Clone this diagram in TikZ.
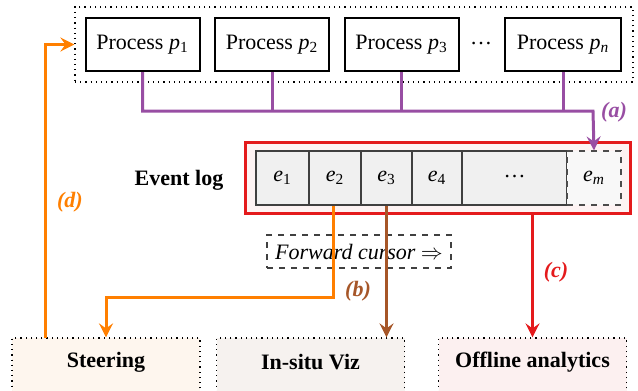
\documentclass[tikz,border=0pt]{standalone}
\usepackage{fontspec}
\setmainfont{Liberation Serif}
\usetikzlibrary{arrows.meta,calc}
\definecolor{cpurple}{HTML}{984EA3}
\definecolor{corange}{HTML}{FF7F00}
\definecolor{cbrown}{HTML}{A65628}
\definecolor{cred}{HTML}{E41A1C}
\definecolor{cellgray}{HTML}{F0F0F0}
\definecolor{emgray}{HTML}{F8F8F8}
\definecolor{logfill}{HTML}{FDF3F3}
\definecolor{steerfill}{HTML}{FEF6EE}
\definecolor{vizfill}{HTML}{F6F2EF}
\definecolor{offfill}{HTML}{FCF0F0}
\newcommand{\pv}[1]{$\mathit{p}_{#1}$}
\newcommand{\ev}[1]{$\mathit{e}_{#1}$}
\newcommand{\mydots}{\raisebox{0.3ex}{\char"2026}}
\tikzset{
  procbox/.style={draw=black, line width=1pt, fill=white, minimum width=57pt, minimum height=26.5pt, inner sep=0pt, font=\fontsize{11}{13}\selectfont},
  cellbox/.style={draw=black!75, line width=0.6pt, fill=cellgray, minimum height=27pt, inner sep=0pt, font=\fontsize{11}{13}\selectfont},
  botbox/.style={draw=black, dotted, line width=0.6pt, minimum width=94pt, minimum height=30pt, inner sep=0pt},
  bottxt/.style={font=\fontsize{11}{13}\selectfont\bfseries},
  lbl/.style={font=\fontsize{11}{13}\selectfont\bfseries\itshape},
  conn/.style={line width=1.5pt},
  tip/.style={-{Stealth[length=7pt,width=7pt,inset=2.5pt]}},
}
\begin{document}
\begin{tikzpicture}[x=0.5pt,y=-0.5pt]
\useasboundingbox (0,0) rectangle (638,391);
\clip (0,0) rectangle (638,391);
% outer dotted box
\node[draw=black, dotted, line width=0.6pt, minimum width=279pt, minimum height=37.5pt, inner sep=0pt] (procs) at (354,44.5) {};
\node[procbox] (p1) at (142.5,44.5) {Process \pv{\mathrm{1}}};
\node[procbox] (p2) at (272,44.5) {Process \pv{\mathrm{2}}};
\node[procbox] (p3) at (401.5,44.5) {Process \pv{\mathrm{3}}};
\node[font=\fontsize{11}{13}\selectfont] (pdots) at (481,44.5) {\mydots};
\node[procbox, minimum width=58pt] (pn) at (563,44.5) {Process \pv{\mathit{n}}};
% event log
\node[draw=cred, line width=1.5pt, fill=logfill, minimum width=192.5pt, minimum height=35.5pt, inner sep=0pt] (log) at (437.5,177.5) {};
\node[font=\fontsize{11}{13}\selectfont\bfseries] (logname) at (179,180) {Event log};
\node[cellbox, minimum width=26.5pt] (e1) at (282.5,178) {\ev{\mathrm{1}}};
\node[cellbox, minimum width=26pt] (e2) at (335,178) {\ev{\mathrm{2}}};
\node[cellbox, minimum width=25.5pt] (e3) at (386.5,178) {\ev{\mathrm{3}}};
\node[cellbox, minimum width=25pt] (e4) at (437,178) {\ev{\mathrm{4}}};
\node[cellbox, minimum width=52.5pt] (edots) at (514.5,178) {\mydots};
\node[cellbox, draw=black!70, dashed, fill=emgray, minimum width=27pt] (em) at (594,178) {\ev{\mathit{m}}};
% forward cursor
\node[draw=black!75, dashed, line width=0.6pt, minimum width=92pt, minimum height=16.5pt, inner sep=0pt, font=\fontsize{11}{13}\selectfont\itshape] (cursor) at (359,251.5) {Forward cursor $\Rightarrow$};
% bottom boxes
\node[botbox, fill=steerfill] (steer) at (106,368) {};
\node[bottxt] (steertxt) at (106,362) {Steering};
\node[botbox, fill=vizfill] (viz) at (310.5,368) {};
\node[bottxt] (viztxt) at (310.5,362) {In-situ Viz};
\node[botbox, fill=offfill] (off) at (532.5,368) {};
\node[bottxt] (offtxt) at (532.5,362) {Offline analytics};
% (a) purple
\coordinate (bus) at (593,111);
\draw[conn, cpurple, tip] (p1.south) |- (bus) -- (em.north);
\draw[conn, cpurple] (p2.south) -- (p2.south |- bus);
\draw[conn, cpurple] (p3.south) -- (p3.south |- bus);
\draw[conn, cpurple] (pn.south) -- (pn.south |- bus);
\node[lbl, text=cpurple] (la) at (614,112) {(a)};
% (b) orange and brown
\coordinate (obend) at (333,297);
\draw[conn, corange, tip] (e2.south -| obend) -- (obend) -| (steer.north);
\draw[conn, cbrown, tip] (e3.south) -- (e3.south |- viz.north);
\node[lbl, text=cbrown] (lb) at (358,291) {(b)};
% (c) red
\draw[conn, cred, tip] (log.south -| off.north) -- (off.north);
\node[lbl, text=cred] (lc) at (556,272) {(c)};
% (d) orange
\coordinate (dstart) at (45,338);
\draw[conn, corange, tip] (dstart) |- (procs.west);
\node[lbl, text=corange] (ld) at (70,202) {(d)};
\end{tikzpicture}
\end{document}
